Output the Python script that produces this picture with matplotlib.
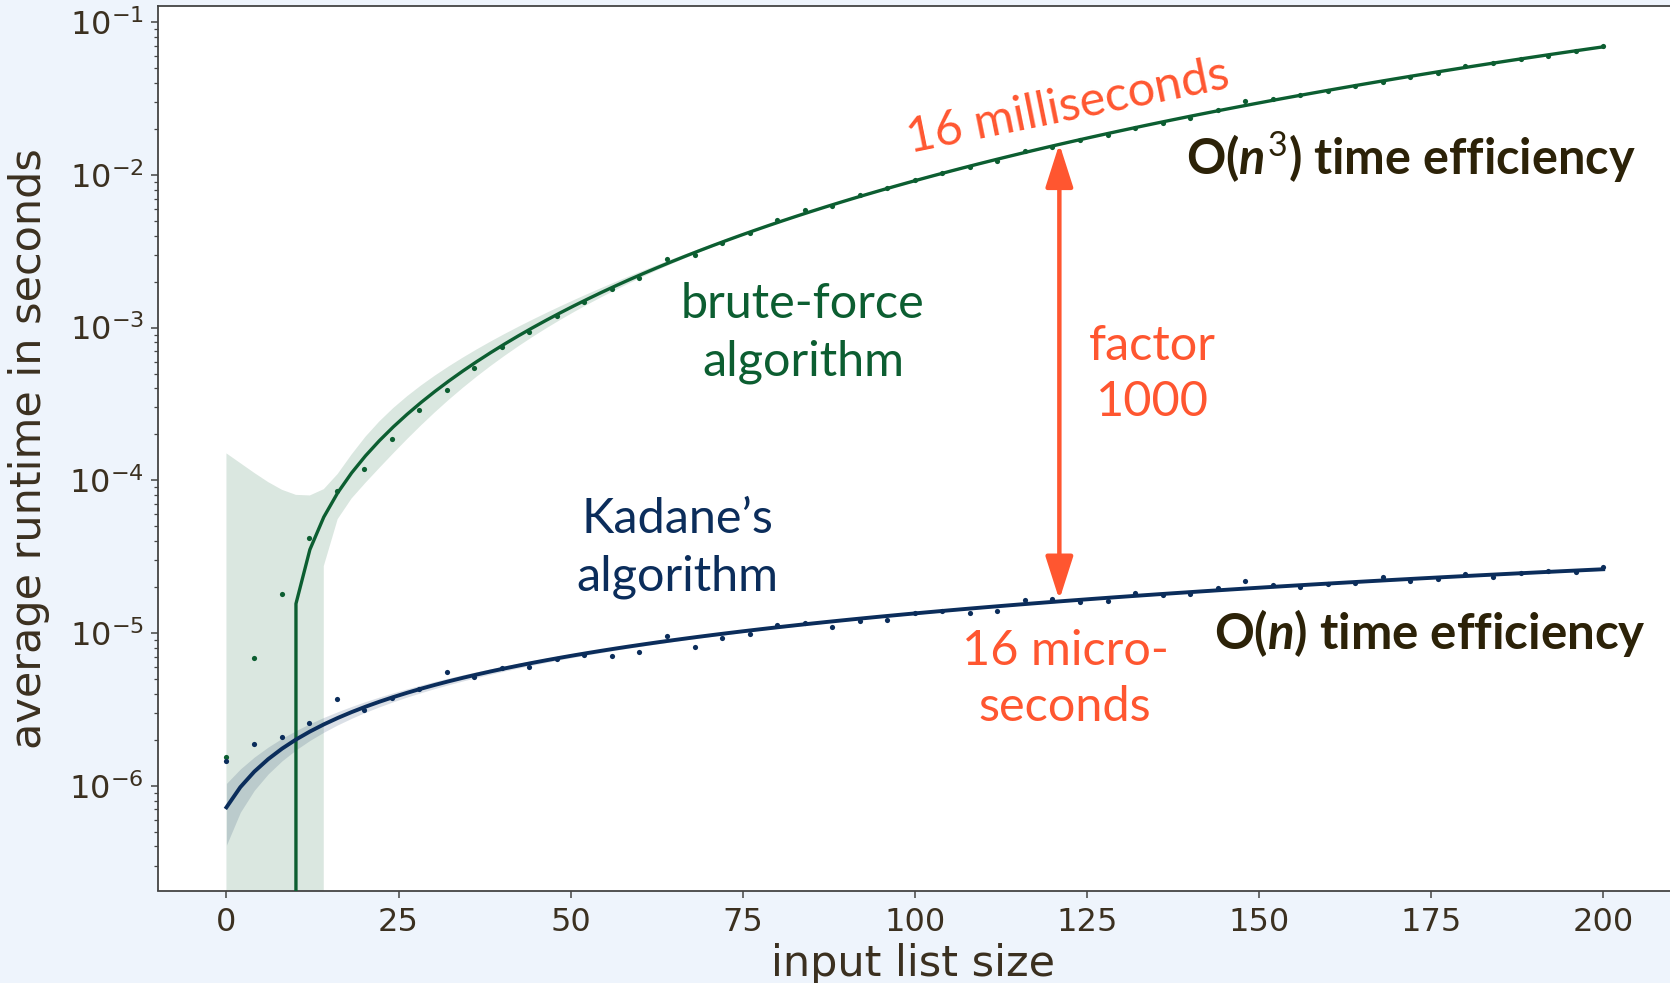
import numpy as np
import matplotlib
matplotlib.use("Agg")
import matplotlib.pyplot as plt
from matplotlib.ticker import FixedLocator

# ---------------- data ----------------
sizes = [0, 4, 8, 12, 16, 20, 24, 28, 32, 36, 40, 44, 48, 52, 56, 60, 64, 68, 72, 76,
         80, 84, 88, 92, 96, 100, 104, 108, 112, 116, 120, 124, 128, 132, 136, 140,
         144, 148, 152, 156, 160, 164, 168, 172, 176, 180, 184, 188, 192, 196, 200]

brute_force = [1.55e-6, 6.9e-6, 1.8e-5, 4.18e-5, 8.57e-5, 1.18e-4, 1.87e-4, 2.89e-4,
               3.91e-4, 5.45e-4, 7.51e-4, 9.42e-4, 1.20e-3, 1.48e-3, 1.78e-3, 2.10e-3,
               2.80e-3, 2.99e-3, 3.57e-3, 4.15e-3, 5.07e-3, 5.90e-3, 6.27e-3, 7.40e-3,
               8.18e-3, 9.20e-3, 1.03e-2, 1.12e-2, 1.24e-2, 1.44e-2, 1.53e-2, 1.69e-2,
               1.83e-2, 2.02e-2, 2.20e-2, 2.37e-2, 2.68e-2, 3.05e-2, 3.12e-2, 3.34e-2,
               3.55e-2, 3.80e-2, 4.09e-2, 4.37e-2, 4.68e-2, 5.18e-2, 5.39e-2, 5.72e-2,
               6.01e-2, 6.51e-2, 7.00e-2]

kadane = [1.46e-6, 1.87e-6, 2.08e-6, 2.59e-6, 3.68e-6, 3.13e-6, 3.77e-6, 4.30e-6,
          5.53e-6, 5.13e-6, 5.88e-6, 6.03e-6, 6.73e-6, 7.20e-6, 7.08e-6, 7.49e-6,
          9.57e-6, 8.15e-6, 9.33e-6, 9.82e-6, 1.13e-5, 1.16e-5, 1.09e-5, 1.20e-5,
          1.22e-5, 1.36e-5, 1.40e-5, 1.36e-5, 1.40e-5, 1.65e-5, 1.66e-5, 1.59e-5,
          1.61e-5, 1.82e-5, 1.78e-5, 1.80e-5, 1.96e-5, 2.19e-5, 2.06e-5, 2.01e-5,
          2.09e-5, 2.14e-5, 2.32e-5, 2.20e-5, 2.25e-5, 2.44e-5, 2.34e-5, 2.46e-5,
          2.56e-5, 2.52e-5, 2.72e-5]

x_ticks = [0, 25, 50, 75, 100, 125, 150, 175, 200]

# ---------------- style ----------------
GREEN = "#0c5e31"
BLUE = "#0b2d5b"
ORANGE = "#ff5630"
BROWN = "#3b3020"
DARK = "#2c2208"
BG = "#eef4fc"

plt.rcParams["mathtext.rm"] = "Lato"
plt.rcParams["mathtext.it"] = "Lato:bold:italic"
plt.rcParams["mathtext.bf"] = "Lato:bold"

W, H = 1670, 983
fig = plt.figure(figsize=(W / 100, H / 100), dpi=100, facecolor=BG)
left_px, right_px, top_px, bottom_px = 157.6, 1672.0, 6.2, 890.5
ax = fig.add_axes([left_px / W, 1 - bottom_px / H,
                   (right_px - left_px) / W, (bottom_px - top_px) / H])
ax.set_facecolor("white")


def fit_with_ci(x, y, order, grid):
    """Polynomial least squares with a heteroscedasticity-robust 95% band."""
    X = np.vander(x, order + 1)
    beta, *_ = np.linalg.lstsq(X, y, rcond=None)
    resid = y - X @ beta
    n, p = X.shape
    XtX_inv = np.linalg.inv(X.T @ X)
    meat = X.T @ (X * (resid ** 2)[:, None])
    cov = XtX_inv @ meat @ XtX_inv * n / (n - p)
    G = np.vander(grid, order + 1)
    yhat = G @ beta
    se = np.sqrt(np.einsum("ij,jk,ik->i", G, cov, G))
    return yhat, yhat - 1.96 * se, yhat + 1.96 * se


xs = np.array(sizes, dtype=float)
grid = np.linspace(xs.min(), xs.max(), 100)

for vals, order, col, lw in [(brute_force, 3, GREEN, 2.4), (kadane, 1, BLUE, 2.8)]:
    ys = np.array(vals)
    yhat, lo, hi = fit_with_ci(xs, ys, order, grid)
    ax.fill_between(grid, lo, hi, color=col, alpha=0.15, linewidth=0, zorder=1)
    ax.plot(grid, yhat, color=col, lw=lw, zorder=3)
    ax.scatter(xs, ys, s=14, color=col, linewidths=0, zorder=2)

ax.set_yscale("log")
ax.set_xlim(-10, 210)
ax.set_ylim(2.06e-7, 0.1274)
ax.xaxis.set_major_locator(FixedLocator(x_ticks))

for sp in ax.spines.values():
    sp.set_color("#444444")
    sp.set_linewidth(1.3)

ax.tick_params(axis="both", which="major", labelsize=23, colors="#444444",
               labelcolor=BROWN, length=5, width=1.1)
ax.tick_params(axis="x", pad=7)
ax.tick_params(axis="y", pad=5)
ax.tick_params(axis="y", which="minor", length=3, width=0.9, colors="#444444")

ax.set_xlabel("input list size", fontsize=31, color=BROWN)
ax.set_ylabel("average runtime in seconds", fontsize=31, color=BROWN)
ax.xaxis.set_label_coords(0.4986, -0.059)
ax.yaxis.set_label_coords(-0.071, 0.5)

# ---------------- annotations ----------------
def fx(px):
    return px / W


def fy(py):
    return 1 - py / H


afont = "Lato"
LS = 1.36
fig.text(fx(803), fy(333), "brute-force\nalgorithm", ha="center", va="center",
         fontsize=35, color=GREEN, family=afont, linespacing=LS)
fig.text(fx(677), fy(548), "Kadane\u2019s\nalgorithm", ha="center", va="center",
         fontsize=35, color=BLUE, family=afont, linespacing=LS)
fig.text(fx(1152), fy(374), "factor\n1000", ha="center", va="center",
         fontsize=35, color=ORANGE, family=afont, linespacing=LS)
fig.text(fx(1065), fy(679), "16 micro-\nseconds", ha="center", va="center",
         fontsize=35, color=ORANGE, family=afont, linespacing=LS)
fig.text(fx(1068), fy(107), "16 milliseconds", ha="center", va="center",
         fontsize=35, color=ORANGE, family=afont, rotation=11.5,
         rotation_mode="anchor")
fig.text(fx(1186), fy(157), r"O($n^3$) time efficiency", ha="left", va="center",
         fontsize=35, color=DARK, family=afont, weight="bold",
         math_fontfamily="custom")
fig.text(fx(1214), fy(633), r"O($n$) time efficiency", ha="left", va="center",
         fontsize=35.5, color=DARK, family=afont, weight="bold",
         math_fontfamily="custom")

ax.annotate("", xy=(121, 0.016), xytext=(121, 1.65e-5),
            arrowprops=dict(arrowstyle="<|-|>,head_length=0.5,head_width=0.16",
                            mutation_scale=53, color=ORANGE, lw=3.2,
                            shrinkA=0, shrinkB=0), zorder=5)

fig.savefig("out.png", dpi=100, facecolor=BG)
